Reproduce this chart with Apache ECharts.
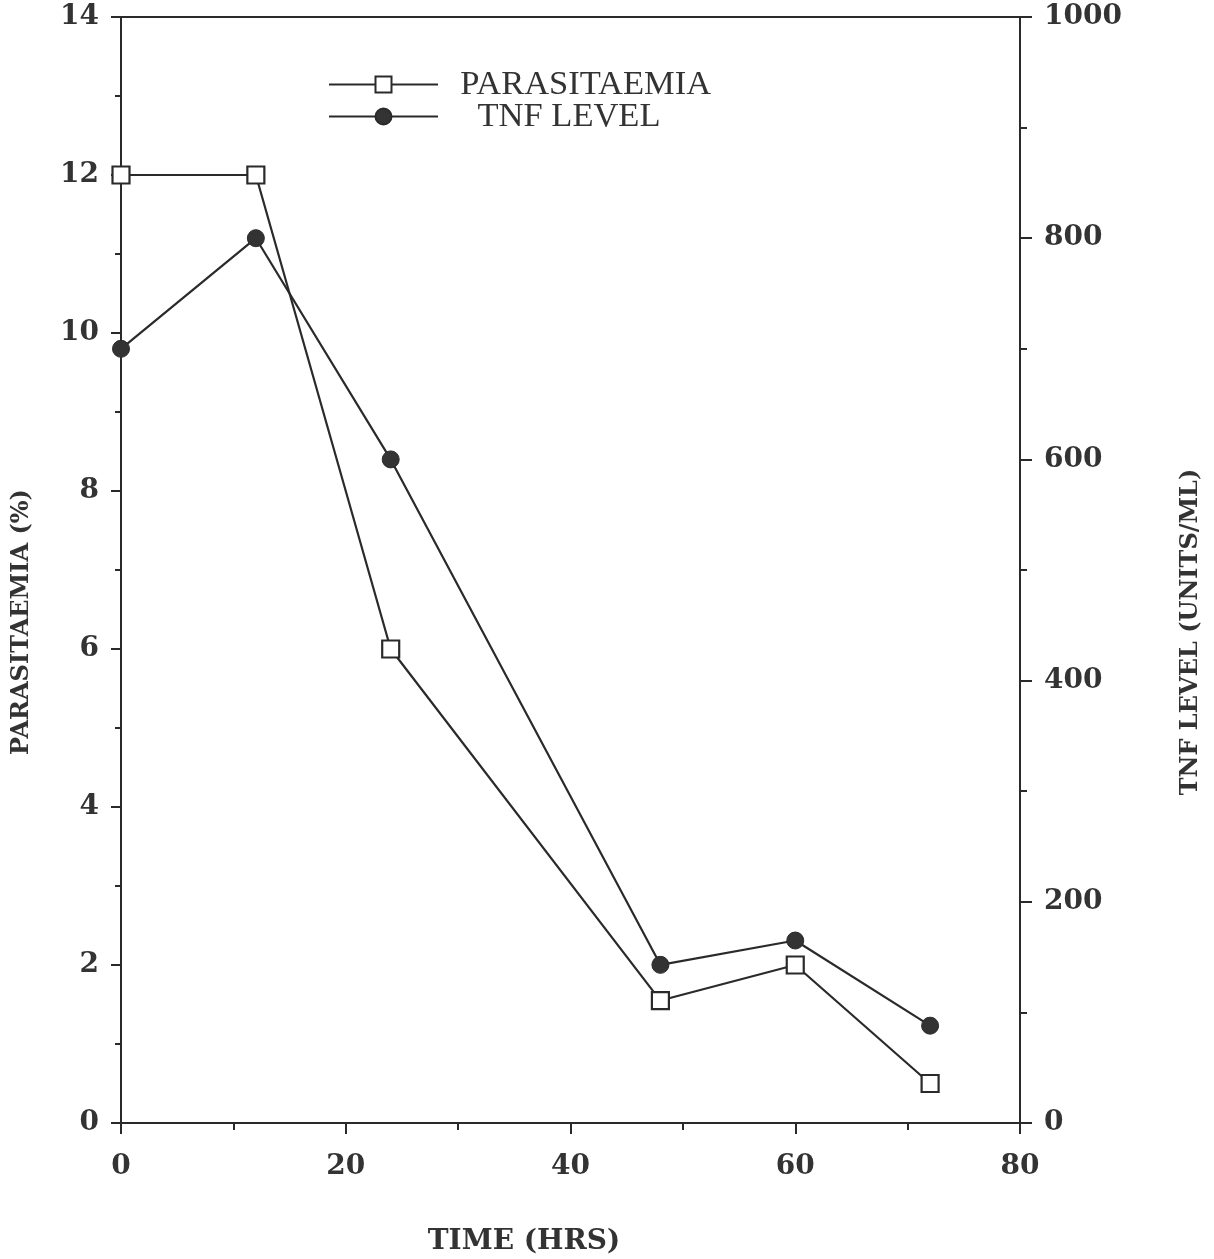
<!DOCTYPE html>
<html>
<head>
<meta charset="utf-8">
<script src="https://cdn.jsdelivr.net/npm/echarts@6/dist/echarts.min.js"></script>
<style>html,body{margin:0;padding:0;background:#fff}#c{width:1214px;height:1259px}</style>
</head>
<body>
<div id="c"></div>
<script>
const timeHrs = [0, 12, 24, 48, 60, 72];
const parasitaemia = [12, 12, 6, 1.55, 2.0, 0.5];
const tnfLevel = [700, 800, 600, 143, 165, 88];
const leftTicks = [0, 14, 2];
const rightTicks = [0, 1000, 200];
const xTicks = [0, 80, 20];

const ink = '#2a2a2a';
const tickFont = { fontFamily: 'DejaVu Serif', fontWeight: 'bold', fontSize: 28, color: '#333' };
const plain = function (v) { return String(v); };

const chart = echarts.init(document.getElementById('c'));
chart.setOption({
  backgroundColor: '#fff',
  animation: false,
  grid: { left: 121, right: 194, top: 17, bottom: 136, show: true, borderColor: ink, borderWidth: 2, backgroundColor: 'transparent' },
  legend: {
    orient: 'vertical', left: 323, top: 62,
    itemWidth: 109, itemHeight: 20, itemGap: -3,
    textStyle: { fontFamily: 'Liberation Serif', fontSize: 34.5, color: '#333' },
    formatter: function (n) { return n === 'TNF LEVEL' ? '    TNF LEVEL' : '  ' + n; },
    data: ['PARASITAEMIA', 'TNF LEVEL']
  },
  xAxis: {
    type: 'value', min: xTicks[0], max: xTicks[1], interval: xTicks[2],
    axisLine: { lineStyle: { color: ink, width: 2 } },
    axisTick: { show: true, length: 11, lineStyle: { color: ink, width: 2 } },
    minorTick: { show: true, splitNumber: 2, length: 7, lineStyle: { color: ink, width: 2 } },
    axisLabel: Object.assign({ margin: 30, formatter: plain }, tickFont),
    splitLine: { show: false }
  },
  yAxis: [{
    type: 'value', min: leftTicks[0], max: leftTicks[1], interval: leftTicks[2], position: 'left',
    axisLine: { show: true, lineStyle: { color: ink, width: 2 } },
    axisTick: { show: true, length: 10, lineStyle: { color: ink, width: 2 } },
    minorTick: { show: true, splitNumber: 2, length: 6, lineStyle: { color: ink, width: 2 } },
    axisLabel: Object.assign({ margin: 22, formatter: plain }, tickFont),
    splitLine: { show: false }
  }, {
    type: 'value', min: rightTicks[0], max: rightTicks[1], interval: rightTicks[2], position: 'right',
    axisLine: { show: true, lineStyle: { color: ink, width: 2 } },
    axisTick: { show: true, length: 12, lineStyle: { color: ink, width: 2 } },
    minorTick: { show: true, splitNumber: 2, length: 7, lineStyle: { color: ink, width: 2 } },
    axisLabel: Object.assign({ margin: 24, formatter: plain }, tickFont),
    splitLine: { show: false }
  }],
  series: [{
    name: 'PARASITAEMIA', type: 'line', yAxisIndex: 0,
    data: timeHrs.map((t, i) => [t, parasitaemia[i]]),
    symbol: 'rect', symbolSize: 17, z: 3,
    lineStyle: { color: ink, width: 2.2 },
    itemStyle: { color: '#fff', borderColor: ink, borderWidth: 2.2 }
  }, {
    name: 'TNF LEVEL', type: 'line', yAxisIndex: 1,
    data: timeHrs.map((t, i) => [t, tnfLevel[i]]),
    symbol: 'circle', symbolSize: 17, z: 2,
    lineStyle: { color: ink, width: 2.2 },
    itemStyle: { color: '#333', borderColor: '#2a2a2a', borderWidth: 1 }
  }],
  graphic: [
    { type: 'text', x: 22, y: 622, rotation: Math.PI / 2,
      style: { text: 'PARASITAEMIA (%)', fontFamily: 'DejaVu Serif', fontWeight: 'bold', fontSize: 24, fill: '#333', align: 'center', verticalAlign: 'middle' } },
    { type: 'text', x: 1191, y: 632, rotation: Math.PI / 2,
      style: { text: 'TNF LEVEL (UNITS/ML)', fontFamily: 'DejaVu Serif', fontWeight: 'bold', fontSize: 24, fill: '#333', align: 'center', verticalAlign: 'middle' } },
    { type: 'text', x: 524, y: 1242,
      style: { text: 'TIME (HRS)', fontFamily: 'DejaVu Serif', fontWeight: 'bold', fontSize: 28, fill: '#333', align: 'center', verticalAlign: 'middle' } }
  ]
});
</script>
</body>
</html>
